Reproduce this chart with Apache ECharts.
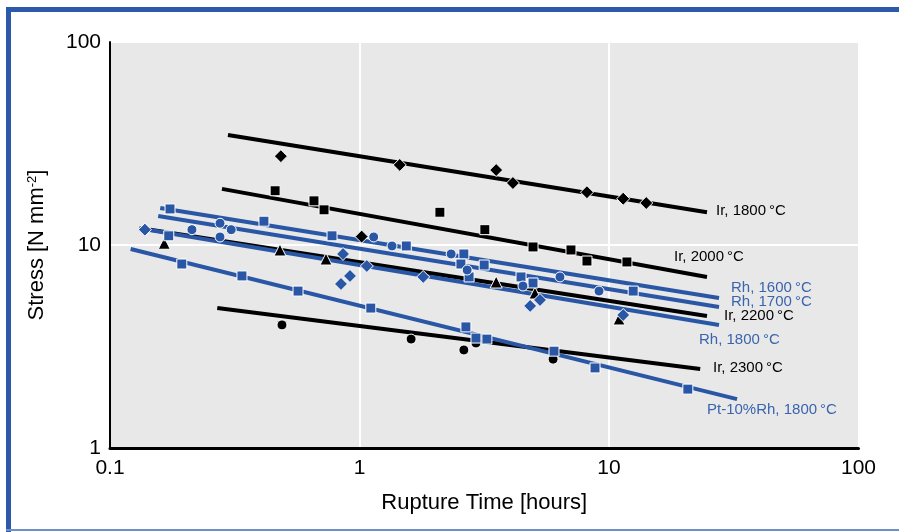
<!DOCTYPE html>
<html>
<head>
<meta charset="utf-8">
<script src="https://cdn.jsdelivr.net/npm/echarts@6/dist/echarts.min.js"></script>
<style>
html,body{margin:0;padding:0;background:#fff;}
#chart{width:899px;height:532px;}
</style>
</head>
<body>
<div id="chart"></div>
<script>
// ---- data (rupture time [h], stress [N mm^-2]) ----
const xTicks = [0.1, 1, 10, 100];
const yTicks = [1, 10, 100];

const ir1800Pts = [[0.484,27.4],[1.45,24.8],[3.53,23.4],[4.12,20.2],[8.16,18.2],[11.4,16.9],[14.1,16.1],[1.02,11.0]];
const ir1800Fit = [[0.297,34.8],[24.7,14.5]];

const ir2000Pts = [[0.459,18.5],[0.657,16.5],[0.721,14.9],[2.10,14.5],[3.18,11.9],[4.96,9.78],[7.04,9.45],[8.16,8.34],[11.8,8.25]];
const ir2000Fit = [[0.281,18.9],[24.7,6.96]];

const ir2200Pts = [[0.165,10.2],[0.480,9.45],[0.734,8.53],[3.53,6.57],[5.05,5.80],[10.97,4.32]];
const ir2200Fit = [[0.145,11.9],[24.7,4.47]];

const ir2300Pts = [[0.489,4.04],[1.61,3.44],[2.62,3.04],[2.93,3.29],[5.97,2.74]];
const ir2300Fit = [[0.269,4.89],[23.2,2.45]];

const rh1600Pts = [[0.174,15.05],[0.172,11.1],[0.414,13.1],[0.776,11.1],[1.54,9.89],[2.62,9.03],[2.55,8.06],[3.16,7.97],[2.75,6.96],[4.44,6.96],[4.96,6.50],[12.5,5.93]];
const rh1600Fit = [[0.159,15.2],[27.6,5.48]];

const rh1700Pts = [[0.213,11.9],[0.276,12.8],[0.306,11.9],[0.276,10.95],[1.14,10.95],[1.35,9.89],[2.33,9.03],[2.70,7.53],[4.52,6.28],[6.36,6.96],[9.12,5.93]];
const rh1700Fit = [[0.156,13.9],[27.6,4.95]];

const rh1800Pts = [[0.138,11.9],[0.859,9.03],[1.07,7.88],[0.916,7.04],[0.843,6.43],[1.80,6.96],[5.29,5.36],[4.83,5.01],[11.4,4.52]];
const rh1800Fit = [[0.131,12.1],[27.6,4.04]];

const ptRhPts = [[0.194,8.06],[0.338,7.04],[0.567,5.93],[1.11,4.89],[2.67,3.95],[2.93,3.48],[3.24,3.44],[6.02,3.00],[8.79,2.48],[20.7,1.95]];
const ptRhFit = [[0.121,9.56],[32.6,1.74]];

const seriesLabels = ['Ir, 1800\u2009°C','Ir, 2000\u2009°C','Rh, 1600\u2009°C','Rh, 1700\u2009°C','Ir, 2200\u2009°C','Rh, 1800\u2009°C','Ir, 2300\u2009°C','Pt-10%Rh, 1800\u2009°C'];

// ---- styling ----
const FONT = '"Liberation Sans", Arial, Helvetica, sans-serif';
const BLACK = '#000000';
const BLUE = '#2a57a5';
const BLUE_TXT = '#3a64ae';

function fit(name, data, color) {
  return {name, type:'line', data, symbol:'none', silent:true,
    lineStyle:{color, width:4, cap:'butt', opacity:1}, z:2, animation:false};
}
function pts(name, data, symbol, size, color) {
  return {name, type:'scatter', data, symbol, symbolSize:size,
    itemStyle:{color, opacity:1, borderColor:'#ffffff', borderWidth:1}, z:5, animation:false};
}

const labelPos = [
  [716,212,BLACK],[674,258,BLACK],[731,289,BLUE_TXT],[731,303,BLUE_TXT],
  [724,317,BLACK],[699,341,BLUE_TXT],[713,369,BLACK],[707,411,BLUE_TXT]
];

const chart = echarts.init(document.getElementById('chart'), null, {renderer:'canvas'});
chart.setOption({
  animation:false,
  backgroundColor:'#ffffff',
  grid:{left:110, right:40.5, top:42, bottom:84, show:true, backgroundColor:'#e8e8e8', borderWidth:0},
  xAxis:{
    type:'log', logBase:10, min:xTicks[0], max:xTicks[xTicks.length-1],
    name:'Rupture Time [hours]', nameLocation:'middle', nameGap:44,
    nameTextStyle:{fontFamily:FONT, fontSize:22, color:BLACK},
    axisLine:{show:true, lineStyle:{color:BLACK, width:3}},
    axisTick:{show:false},
    axisLabel:{fontFamily:FONT, fontSize:21, color:BLACK, margin:10,
      formatter:v=>{ const t = xTicks.find(k=>Math.abs(k-v)/k<1e-6); return t!==undefined? String(t):''; }},
    splitLine:{show:true, lineStyle:{color:'#ffffff', width:2}},
    minorTick:{show:false}, minorSplitLine:{show:false}
  },
  yAxis:{
    type:'log', logBase:10, min:yTicks[0], max:yTicks[yTicks.length-1],
    name:'Stress [N mm{s|-2}]', nameLocation:'middle', nameGap:62, nameRotate:90,
    nameTextStyle:{fontFamily:FONT, fontSize:22, color:BLACK,
      rich:{s:{fontFamily:FONT, fontSize:13, color:BLACK, verticalAlign:'top', lineHeight:22}}},
    axisLine:{show:true, lineStyle:{color:BLACK, width:2}},
    axisTick:{show:false},
    axisLabel:{fontFamily:FONT, fontSize:21, color:BLACK, margin:9,
      formatter:v=>{ const t = yTicks.find(k=>Math.abs(k-v)/k<1e-6); return t!==undefined? String(t):''; }},
    splitLine:{show:true, lineStyle:{color:'#ffffff', width:2}}
  },
  graphic:[
    {type:'rect', shape:{x:6, y:7, width:893, height:5}, style:{fill:'#2d5aa8'}, silent:true, z:100},
    {type:'rect', shape:{x:6, y:7, width:5, height:525}, style:{fill:'#2d5aa8'}, silent:true, z:100},
    {type:'rect', shape:{x:6, y:529, width:893, height:2}, style:{fill:'#6f8fc8'}, silent:true, z:100}
  ].concat(seriesLabels.map((t,i)=>({
    type:'text', left:labelPos[i][0], top:labelPos[i][1]-9, silent:true, z:50,
    style:{text:t, fill:labelPos[i][2], font:'15px '+FONT, textVerticalAlign:'top'}
  }))),
  series:[
    fit('Ir 1800 fit', ir1800Fit, BLACK),
    fit('Ir 2000 fit', ir2000Fit, BLACK),
    fit('Ir 2200 fit', ir2200Fit, BLACK),
    fit('Ir 2300 fit', ir2300Fit, BLACK),
    fit('Rh 1600 fit', rh1600Fit, BLUE),
    fit('Rh 1700 fit', rh1700Fit, BLUE),
    fit('Rh 1800 fit', rh1800Fit, BLUE),
    fit('Pt-10%Rh fit', ptRhFit, BLUE),
    pts('Ir 1800', ir1800Pts, 'diamond', 13, BLACK),
    pts('Ir 2000', ir2000Pts, 'rect', 10, BLACK),
    pts('Ir 2200', ir2200Pts, 'triangle', 12, BLACK),
    pts('Ir 2300', ir2300Pts, 'circle', 10, BLACK),
    pts('Rh 1600', rh1600Pts, 'rect', 10, BLUE),
    pts('Rh 1700', rh1700Pts, 'circle', 10, BLUE),
    pts('Rh 1800', rh1800Pts, 'diamond', 13, BLUE),
    pts('Pt-10%Rh 1800', ptRhPts, 'rect', 10, BLUE)
  ]
});
</script>
</body>
</html>
